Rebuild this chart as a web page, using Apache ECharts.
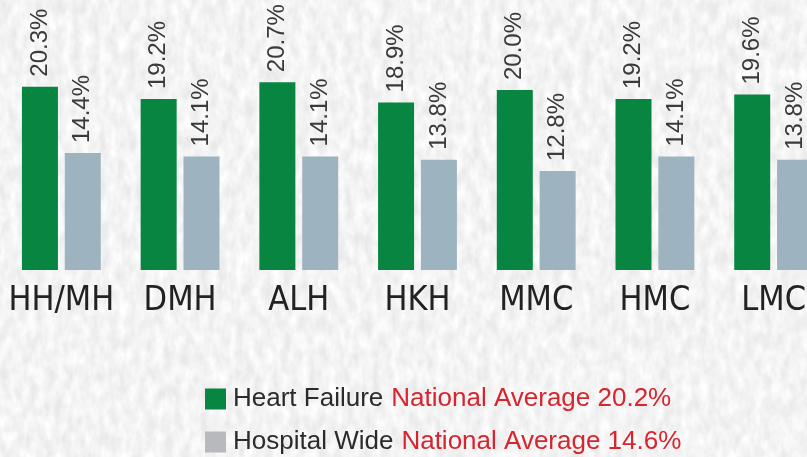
<!DOCTYPE html>
<html>
<head>
<meta charset="utf-8">
<title>Readmission rates</title>
<script src="https://cdn.jsdelivr.net/npm/echarts@6/dist/echarts.min.js"></script>
<style>
  html, body { margin: 0; padding: 0; }
  body {
    width: 807px; height: 457px; overflow: hidden;
    background-color: #e9e9e9;
    /* paper-ish texture */
    background-image: url("data:image/svg+xml;utf8,<svg xmlns='http://www.w3.org/2000/svg' width='807' height='457'><filter id='n'><feTurbulence type='fractalNoise' baseFrequency='0.11 0.06' numOctaves='3' seed='4'/><feColorMatrix values='0 0 0 0 1  0 0 0 0 1  0 0 0 0 1  0 0 0 1.6 -0.32'/></filter><rect width='100%' height='100%' filter='url(%23n)'/></svg>");
  }
  #chart { width: 807px; height: 457px; }
</style>
</head>
<body>
<div id="chart"></div>
<script>
// hospitals
const hospitals = ['HH/MH', 'DMH', 'ALH', 'HKH', 'MMC', 'HMC', 'LMC'];
// rates in %
const heartFailure = [20.3, 19.2, 20.7, 18.9, 20.0, 19.2, 19.6];
const hospitalWide = [14.4, 14.1, 14.1, 13.8, 12.8, 14.1, 13.8];
// series names + national averages shown in the legend
const seriesNames = ['Heart Failure', 'Hospital Wide'];
const nationalAvg = [20.2, 14.6];

const GREEN = '#078541';
const GREY_BAR = '#9db3bf';
const GREY_KEY = '#b7b9bd';

// pick a condensed face for the hospital names if one is installed
function pickCondensed() {
  const ctx = document.createElement('canvas').getContext('2d');
  const probe = 'HH/MH DMH ALH';
  ctx.font = '40px monospace';
  const base = ctx.measureText(probe).width;
  const faces = ['Liberation Sans Narrow', 'DejaVu Sans Condensed', 'Roboto Condensed', 'Open Sans Condensed'];
  for (const f of faces) {
    ctx.font = '40px "' + f + '", monospace';
    if (Math.abs(ctx.measureText(probe).width - base) > 0.5) return { family: f, size: 34 };
  }
  return { family: 'Liberation Sans', size: 32 };
}
const catFont = pickCondensed();

const chart = echarts.init(document.getElementById('chart'));

const valueLabel = {
  show: true,
  position: 'top',
  rotate: 90,
  align: 'left',
  verticalAlign: 'middle',
  distance: 10,
  fontFamily: 'Liberation Sans, Arial, sans-serif',
  fontSize: 24,
  color: '#3a3a3a',
  formatter: p => p.value.toFixed(1) + '%'
};

const option = {
  backgroundColor: 'transparent',
  animation: false,
  grid: { left: 2, top: 0, width: 831, height: 270, outerBoundsMode: 'none', containLabel: false },
  legend: {
    orient: 'vertical',
    left: 200,
    top: 381,
    height: 76,
    itemWidth: 21,
    itemHeight: 21,
    itemGap: 17,
    icon: 'rect',
    data: [
      { name: seriesNames[0], itemStyle: { color: GREEN } },
      { name: seriesNames[1], itemStyle: { color: GREY_KEY } }
    ],
    formatter: name => {
      const i = seriesNames.indexOf(name);
      return '{a|' + name + '}{b|National Average ' + nationalAvg[i].toFixed(1) + '%}';
    },
    textStyle: {
      padding: [0, 0, 0, 2],
      rich: {
        a: { fontFamily: 'Liberation Sans, Arial, sans-serif', fontSize: 26, color: '#2b2b2b', lineHeight: 28 },
        b: { fontFamily: 'Liberation Sans, Arial, sans-serif', fontSize: 26, color: '#d6252f', lineHeight: 28, padding: [0, 0, 0, 8] }
      }
    }
  },
  xAxis: {
    type: 'category',
    data: hospitals,
    axisLine: { show: false },
    axisTick: { show: false },
    axisLabel: {
      margin: 14,
      fontFamily: catFont.family,
      fontSize: catFont.size,
      color: '#222',
      interval: 0,
      hideOverlap: false
    }
  },
  yAxis: {
    type: 'value',
    min: 4,
    max: 28,
    show: false,
    splitLine: { show: false }
  },
  series: [
    {
      name: seriesNames[0],
      type: 'bar',
      data: heartFailure,
      barWidth: 36,
      barGap: '19%',
      itemStyle: { color: GREEN },
      label: valueLabel
    },
    {
      name: seriesNames[1],
      type: 'bar',
      data: hospitalWide,
      barWidth: 36,
      barGap: '19%',
      itemStyle: { color: GREY_BAR },
      label: valueLabel
    }
  ]
};

chart.setOption(option);
</script>
</body>
</html>
